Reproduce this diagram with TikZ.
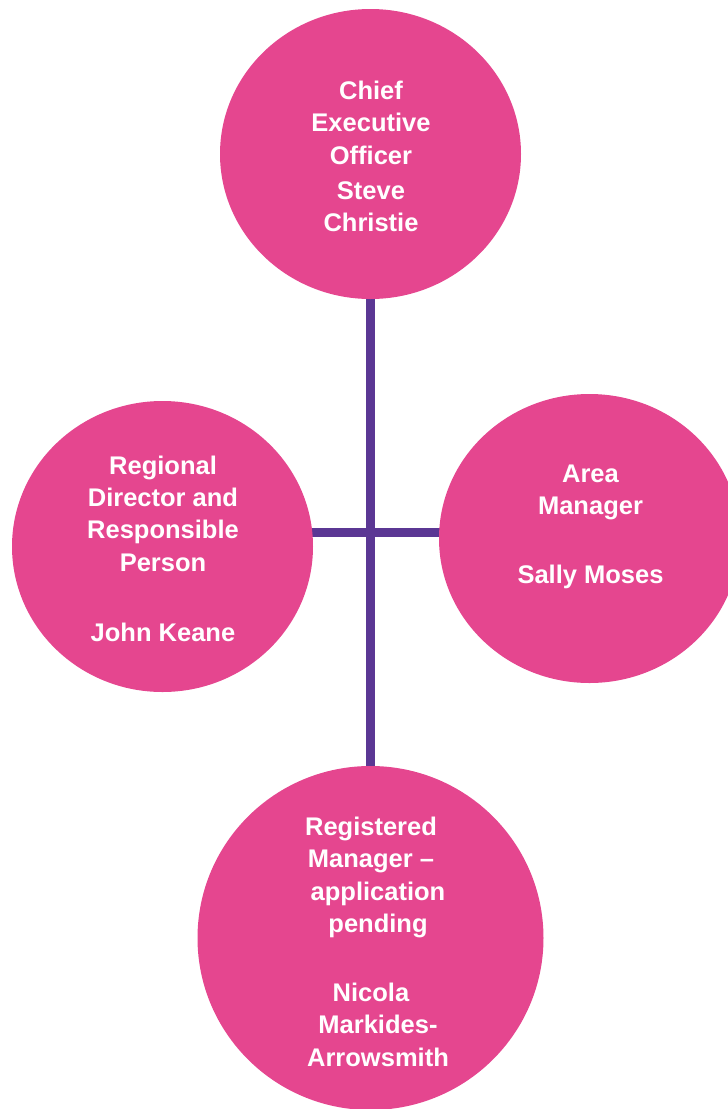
\documentclass[tikz,border=0pt]{standalone}
\usepackage{fontspec}
\setmainfont{Liberation Sans}
\usetikzlibrary{shapes.geometric,backgrounds}
\definecolor{orgpink}{RGB}{229,70,143}
\definecolor{orgpurple}{RGB}{91,55,148}
\begin{document}
\begin{tikzpicture}[x=1pt,y=-1pt,
  bubble/.style={ellipse, fill=orgpink, draw=none, inner sep=0pt},
  bubbletext/.style={text=white, font=\fontsize{25.5}{32.3}\selectfont\bfseries, align=center, inner sep=0pt},
  link/.style={draw=orgpurple, line width=9pt}]
\useasboundingbox (0,0) rectangle (728,1109);
\node[bubble, minimum width=301pt, minimum height=290pt] (ceo) at (370.5,154) {};
\node[bubble, minimum width=301pt, minimum height=291pt] (rd) at (162.5,546.5) {};
\node[bubble, minimum width=301pt, minimum height=289pt] (am) at (589.5,538.5) {};
\node[bubble, minimum width=346pt, minimum height=344pt] (rm) at (370.5,938) {};
\coordinate (hub) at (370.5,532.5);
\begin{scope}[on background layer]
\draw[link] (ceo.center) -- (rm.center);
\draw[link] (rd.center |- hub) -- (am.center |- hub);
\end{scope}
\node[bubbletext] (ceot) at (371,156.3) {Chief\\Executive\\Officer\\[2.7pt]Steve\\Christie};
\node[bubbletext] (rdt) at (163,549) {Regional\\Director and\\Responsible\\Person\\[38.5pt]John Keane};
\node[bubbletext] (amt) at (590.5,526.7) {Area\\Manager\\[36pt]Sally Moses};
\node[bubbletext] (rmt) at (371,941.7) {Registered\\Manager --\\\hspace*{14pt}application\\\hspace*{14pt}pending\\[37pt]Nicola\\\hspace*{14pt}Markides-\\\hspace*{14pt}Arrowsmith};
\end{tikzpicture}
\end{document}
